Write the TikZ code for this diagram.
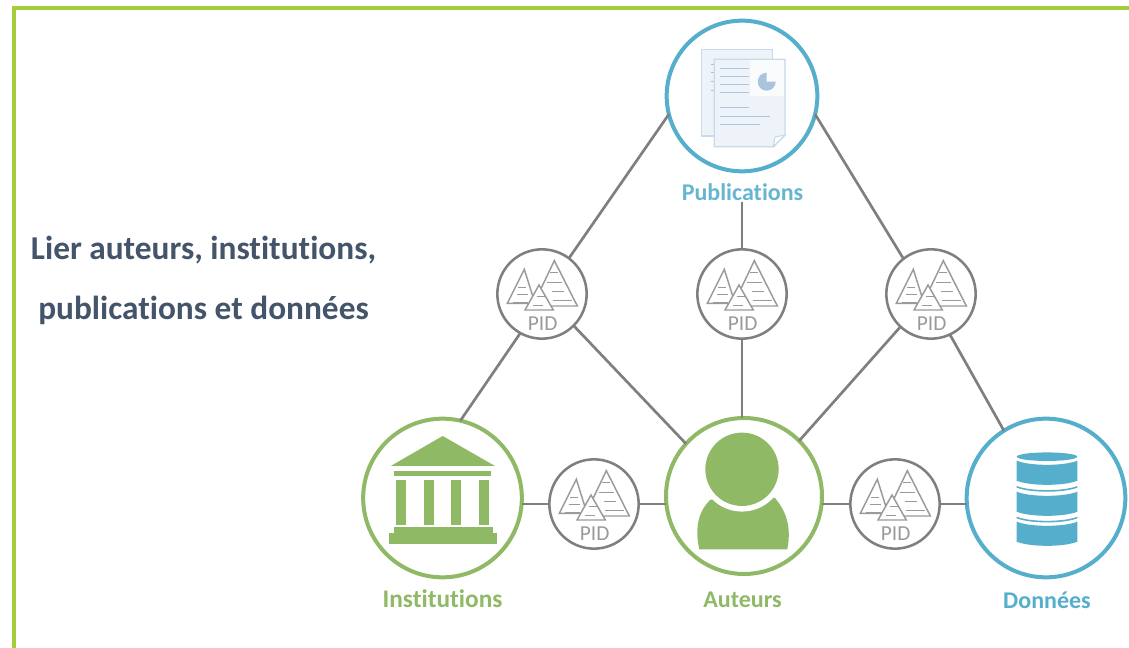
\documentclass[tikz,border=0pt]{standalone}
\usepackage{fontspec}
\setmainfont{Carlito}[Ligatures=NoCommon]
\definecolor{frame}{HTML}{A4CE39}
\definecolor{ttl}{HTML}{44546A}
\definecolor{grn}{HTML}{8FB965}
\definecolor{blu}{HTML}{55AECB}
\definecolor{gry}{HTML}{7F7F7F}
\definecolor{pidg}{HTML}{9A9A9A}
\definecolor{pagef}{HTML}{EEF3F9}
\definecolor{pagee}{HTML}{C9DAEA}
\definecolor{pagel}{HTML}{A9C4DC}
\tikzset{
  hub/.style={circle,draw,line width=3pt,fill=white,inner sep=0pt,outer sep=0pt},
  pidring/.style={circle,draw=gry,line width=1.9pt,fill=white,inner sep=0pt,outer sep=0pt,minimum size=67pt},
  link/.style={draw=gry,line width=2pt},
  hublabel/.style={font=\bfseries\fontsize{18pt}{20pt}\selectfont,inner sep=0pt,outer sep=0pt},
  titletext/.style={font=\bfseries\fontsize{25pt}{28pt}\selectfont,text=ttl,inner sep=0pt},
  tri/.style={draw=pidg,line width=1.1pt,fill=white,line join=miter},
  hatch/.style={draw=pidg,line width=.6pt},
  pidicon/.pic={
    \begin{scope}[x=.25pt,y=-.25pt,shift={(-156,-162)}]
      \path[tri] (103,88)--(52,190)--(135,190)--cycle;
      \path[hatch] (85,143)--(108,143) (80,163)--(115,163) (70,188)--(115,188);
      \path[tri] (193,62)--(262,198)--(128,198)--cycle;
      \path[hatch] (180,98)--(205,98) (170,127)--(215,127) (185,155)--(222,155) (190,182)--(245,182);
      \path[tri] (147,135)--(105,210)--(190,210)--cycle;
      \path[hatch] (140,170)--(165,170) (130,197)--(160,197);
      \node[text=pidg,font=\fontsize{16pt}{17pt}\selectfont,inner sep=0pt] (-txt) at (158,250) {PID};
    \end{scope}
  }
}
\newcommand{\dbseg}[2]{\fill[blu] (1016.7,#1) .. controls (1030,#1+5.5) and (1064,#1+5.5) .. (1077.3,#1) -- (1077.3,#2) .. controls (1064,#2+5.5) and (1030,#2+5.5) .. (1016.7,#2) -- cycle;}
\begin{document}
\begin{tikzpicture}[x=.75pt,y=-.75pt]
\useasboundingbox (0,0) rectangle (1129,648);
\fill[white] (0,0) rectangle (1129,648);
% frame
\draw[frame,line width=3pt] (13.5,648) -- (13.5,8) -- (1129,8);
% title
\node[titletext] (t1) at (203.5,250) {Lier auteurs, institutions,};
\node[titletext] (t2) at (203.5,310) {publications et données};
% hubs
\node[hub,draw=blu,minimum size=113pt] (pub) at (742,96) {};
\node[hub,draw=grn,minimum size=119pt] (inst) at (442.5,498) {};
\node[hub,draw=grn,minimum size=117pt] (aut) at (744,496) {};
\node[hub,draw=blu,minimum size=119pt] (don) at (1046,498) {};
% labels
\node[hublabel,text=blu!90!white,text height=12.5pt,text depth=1.5pt] (publab) at (742.5,192.7) {Publications};
\node[hublabel,text=grn,font=\bfseries\fontsize{19pt}{20pt}\selectfont] (instlab) at (442.5,599) {Institutions};
\node[hublabel,text=grn] (autlab) at (742.5,600) {Auteurs};
\node[hublabel,text=blu] (donlab) at (1047,600) {Données};
% PID
\node[pidring] (p1) at (542,294) {};
\node[pidring] (p2) at (742,294) {};
\node[pidring] (p3) at (931,294) {};
\node[pidring] (p4) at (594,504) {};
\node[pidring] (p5) at (895,504) {};
\pic (i1) at (p1.center) {pidicon};
\pic (i2) at (p2.center) {pidicon};
\pic (i3) at (p3.center) {pidicon};
\pic (i4) at (p4.center) {pidicon};
\pic (i5) at (p5.center) {pidicon};
% connectors
\path[link] (pub.194) -- (p1.53);
\path[link] (p1.241) -- (inst.77);
\path[link] (p1.-45) -- (aut.138);
\path[link] (p2.north |- publab.south) -- (p2.north);
\path[link] (p2.south) -- (p2.south |- aut.north);
\path[link] (pub.-14) -- (p3.128);
\path[link] (p3.-133) -- (aut.45);
\path[link] (p3.-65) -- (don.122);
\path[link] (p4.west) -- (p4.west -| inst.east);
\path[link] (p4.east) -- (p4.east -| aut.west);
\path[link] (p5.west) -- (p5.west -| aut.east);
\path[link] (p5.east) -- (p5.east -| don.west);
% publication icon
\path[fill=pagef,draw=pagee,line width=.9pt] (701.7,49.3) rectangle (772.7,136);
\foreach \yy in {192,218,244,270}{\draw[pagel,line width=.7pt] (710.7,\yy/3) -- (714.3,\yy/3);}
\path[fill=pagef,draw=pagee,line width=.9pt] (714.3,59.3) -- (785,59.3) -- (785,135) -- (773.3,146.7) -- (714.3,146.7) -- cycle;
\fill[pagef!35] (750,60.5) rectangle (784.3,96);
\fill[pagel] (766.7,81.7) -- (766.7,72.7) arc[start angle=-90,end angle=-360,radius=9] -- cycle;
\foreach \yy in {205,230,254,278,322}{\draw[pagel,line width=.8pt] (720,\yy/3) -- (749.3,\yy/3);}
\draw[pagel,line width=.8pt] (720,116.3) -- (770,116.3);
\draw[pagel,line width=.8pt] (720,124.7) -- (760,124.7);
\path[fill=white,draw=pagee,line width=.8pt] (773.3,146.7) -- (785,135) -- (775,137) -- cycle;
% institution icon
\fill[grn] (442.7,436) -- (495,466) -- (390.7,466) -- cycle;
\fill[grn] (394.3,470.7) rectangle (491,475.7);
\foreach \xx in {396,424,451,479.3}{\fill[grn] (\xx,479.7) rectangle (\xx+9.6,525);}
\fill[grn] (394.3,527.3) rectangle (492.7,533);
\fill[grn] (389,532.7) rectangle (497.3,544.3);
% person icon
\fill[grn] (699.3,549.3) .. controls (694,525) and (700,510) .. (710,500) -- (742,490) -- (775,498) .. controls (785,510) and (792,525) .. (787.3,549.3) -- cycle;
\fill[white] (742,469.3) circle[radius=31.7pt];
\fill[grn] (742,469.3) circle[radius=27.5pt];
% database icon
\fill[blu] (1047,456.7) ellipse[x radius=22.7pt,y radius=3.2pt];
\dbseg{460.7}{480.7}
\dbseg{486}{487.6}
\dbseg{491.7}{511.7}
\dbseg{516.7}{518.3}
\dbseg{521.7}{541.7}
\end{tikzpicture}
\end{document}
